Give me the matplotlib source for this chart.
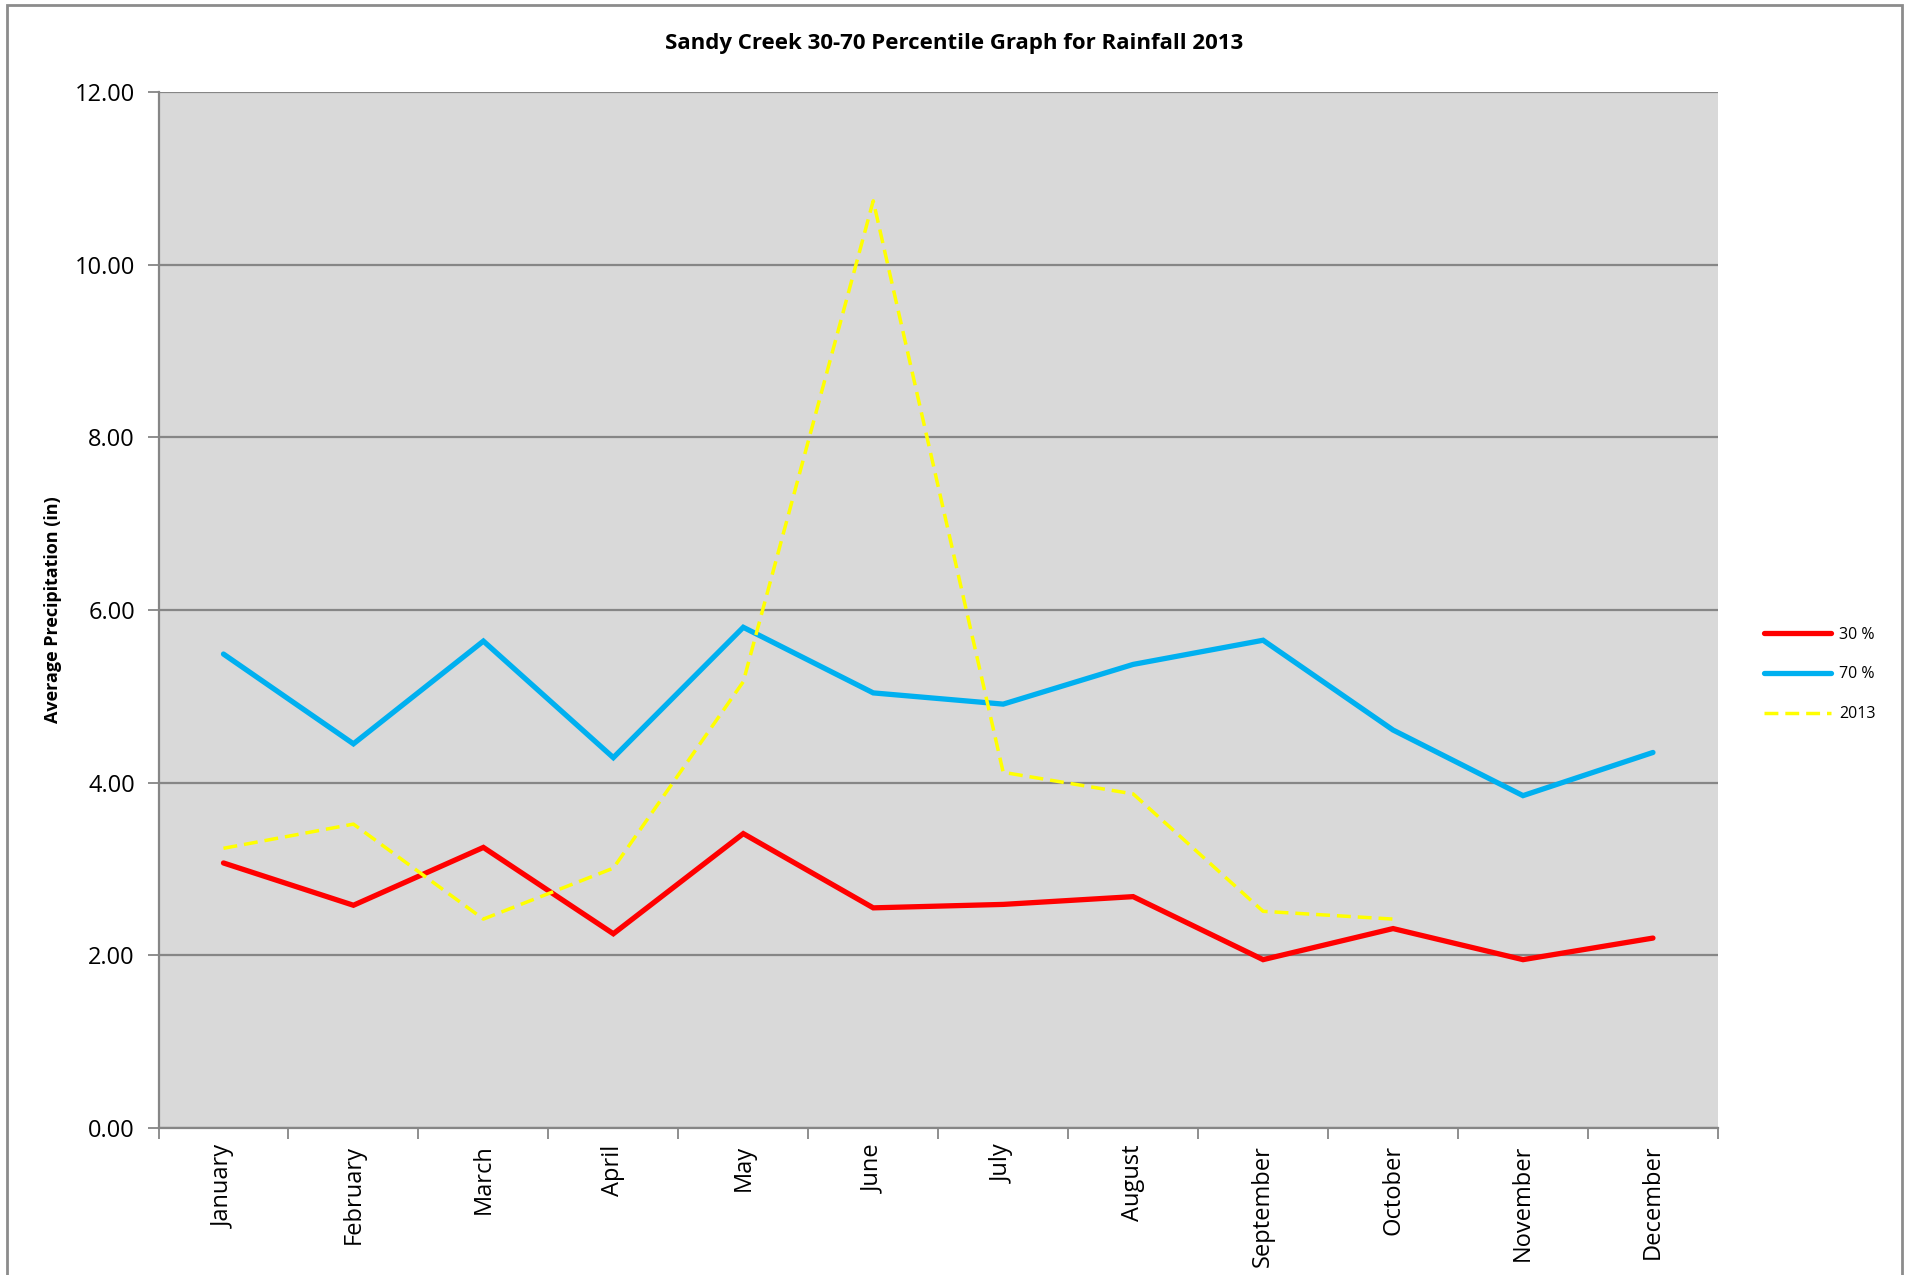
import numpy as np
import matplotlib
matplotlib.use("Agg")
import matplotlib.pyplot as plt
from matplotlib.patches import Rectangle
from matplotlib.ticker import FormatStrFormatter, FixedLocator

plt.rcParams['font.family'] = ['Open Sans', 'DejaVu Sans']

# Monthly rainfall percentiles (inches)
months = ['January', 'February', 'March', 'April', 'May', 'June',
          'July', 'August', 'September', 'October', 'November', 'December']
pct30 = [3.07, 2.58, 3.25, 2.25, 3.41, 2.55, 2.59, 2.68, 1.95, 2.31, 1.95, 2.20]
pct70 = [5.49, 4.45, 5.64, 4.29, 5.80, 5.04, 4.91, 5.37, 5.65, 4.61, 3.85, 4.35]
# 2013 observed, only through October
rain2013 = [3.24, 3.52, 2.42, 3.01, 5.17, 10.74, 4.12, 3.87, 2.51, 2.42]

grid_gray = '#868686'

fig = plt.figure(figsize=(19.12, 12.75), dpi=100)
ax = fig.add_axes([0.0829, 0.1153, 0.8156, 0.8125])
ax.set_facecolor('#D9D9D9')

x = np.arange(len(months))
ax.plot(x, pct30, color='#FF0000', lw=3.8, solid_joinstyle='miter', solid_capstyle='round', label='30 %', zorder=3)
ax.plot(x, pct70, color='#00B0F0', lw=3.8, solid_joinstyle='miter', solid_capstyle='round', label='70 %', zorder=3)
ax.plot(x[:len(rain2013)], rain2013, color='#FFFF00', lw=2.5, dashes=(4, 2), label='2013', zorder=4)

ax.set_xlim(-0.5, len(months) - 0.5)
ax.set_ylim(0, 12)
ax.set_yticks(np.arange(0, 13, 2))
ax.yaxis.set_major_formatter(FormatStrFormatter('%.2f'))
ax.yaxis.grid(True, color=grid_gray, lw=1.6)
ax.set_axisbelow(True)

ax.set_xticks(x)
ax.set_xticklabels(months, rotation=90, fontsize=17)
ax.xaxis.set_minor_locator(FixedLocator(np.arange(-0.5, len(months), 1.0)))
ax.tick_params(axis='x', which='major', length=0, pad=12)
ax.tick_params(axis='x', which='minor', length=8, width=1.3, color=grid_gray)
ax.tick_params(axis='y', length=8, width=1.3, color=grid_gray, labelsize=17, pad=9)

for side in ['top', 'right']:
    ax.spines[side].set_visible(False)
for side in ['left', 'bottom']:
    ax.spines[side].set_color(grid_gray)
    ax.spines[side].set_linewidth(1.6)

ax.set_ylabel('Average Precipitation (in)', fontsize=13, fontweight='bold', labelpad=9)
fig.suptitle('Sandy Creek 30-70 Percentile Graph for Rainfall 2013',
             x=0.499, y=0.966, va='center', fontsize=16, fontweight='bold')

fig.legend(loc='center left', bbox_to_anchor=(0.915, 0.471), frameon=False,
           fontsize=11.5, handlelength=4.2, labelspacing=1.5, handletextpad=0.5)

# outer chart border
fig.patches.append(Rectangle((0.0037, -0.05), 0.9913, 1.046, transform=fig.transFigure,
                             fill=False, edgecolor='#8C8C8C', lw=2, zorder=0))

fig.savefig('out.png', dpi=100)
